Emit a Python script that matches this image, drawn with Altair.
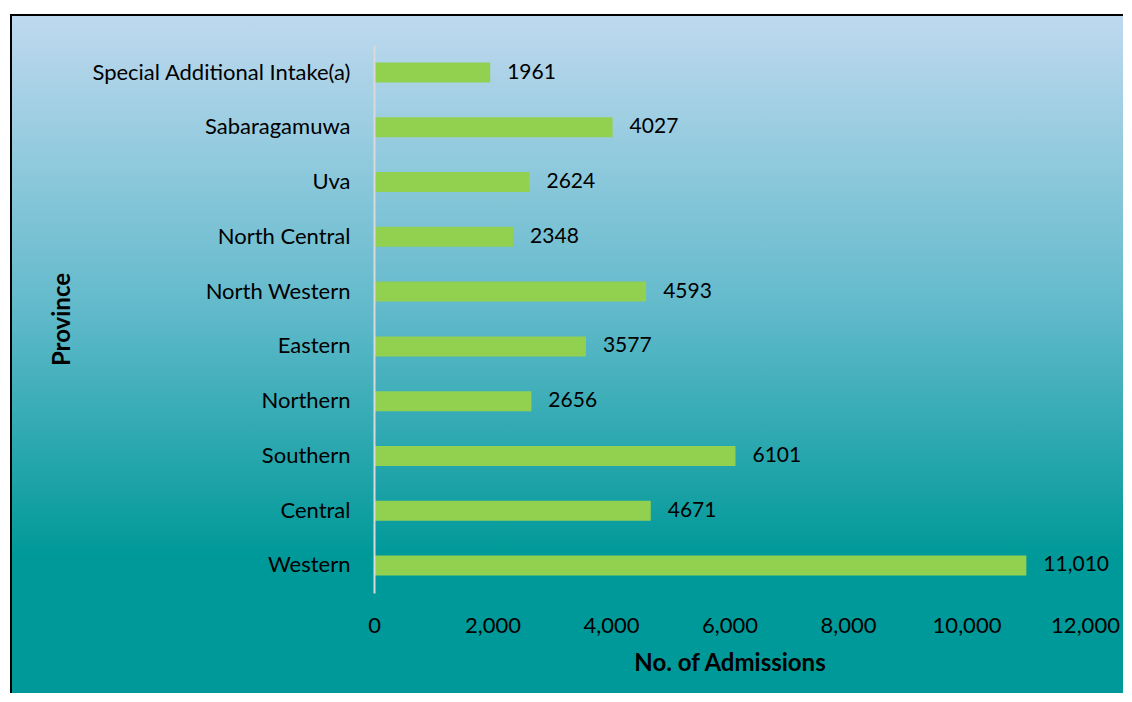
import altair as alt
import pandas as pd

provinces = ["Special Additional Intake(a)", "Sabaragamuwa", "Uva", "North Central",
             "North Western", "Eastern", "Northern", "Southern", "Central", "Western"]
admissions = [1961, 4027, 2624, 2348, 4593, 3577, 2656, 6101, 4671, 11010]
value_labels = ["1961", "4027", "2624", "2348", "4593", "3577", "2656", "6101", "4671", "11,010"]
x_ticks = [0, 2000, 4000, 6000, 8000, 10000, 12000]

df = pd.DataFrame({"Province": provinces, "Admissions": admissions, "Label": value_labels})

W, H = 711, 548
FONT = "Lato"

bg = alt.Chart(pd.DataFrame({"k": [0]})).mark_rect(
    color=alt.Gradient(
        gradient="linear",
        stops=[alt.GradientStop(color="#BFD9EF", offset=0),
               alt.GradientStop(color="#62BACB", offset=0.4),
               alt.GradientStop(color="#009999", offset=0.74),
               alt.GradientStop(color="#009999", offset=1)],
        x1=0, x2=0, y1=0, y2=1),
    stroke="black", strokeWidth=2,
).encode(x=alt.value(-363), x2=alt.value(800), y=alt.value(-30), y2=alt.value(700))

y_enc = alt.Y("Province:N", sort=provinces, title="Province",
              scale=alt.Scale(paddingInner=0.635, paddingOuter=0.32),
              axis=alt.Axis(domain=True, domainColor="#D9D9D9", domainWidth=2, ticks=False,
                            zindex=1, labelLimit=400,
                            labelPadding=24, labelFont=FONT, labelFontSize=22, labelColor="black",
                            titleFont=FONT, titleFontSize=24, titleFontWeight="bold", titleColor="black",
                            titleX=-312, titleY=H / 2, titleAngle=270, titleAlign="center",
                            titleBaseline="middle"))
x_enc = alt.X("Admissions:Q", title="No. of Admissions",
              scale=alt.Scale(domain=[0, 12000], nice=False),
              axis=alt.Axis(values=x_ticks, format=",.0f", labelFlush=False, labelOverlap=False,
                            domain=False, ticks=False, grid=False, labelPadding=22, zindex=1,
                            labelFont=FONT, labelFontSize=22, labelColor="black",
                            titleFont=FONT, titleFontSize=24, titleFontWeight="bold", titleColor="black",
                            titleY=70, titleBaseline="middle"))

bars = alt.Chart(df).mark_bar(color="#92D050").encode(x=x_enc, y=y_enc)
texts = alt.Chart(df).mark_text(align="left", baseline="middle", dx=17, font=FONT,
                                fontSize=21, color="black").encode(
    x="Admissions:Q", y=alt.Y("Province:N", sort=provinces), text="Label:N")

chart = alt.layer(bg, bars, texts).properties(
    width=W, height=H,
    autosize=alt.AutoSizeParams(type="none"),
    padding={"left": 366, "top": 37, "right": 38, "bottom": 100},
).configure_view(stroke=None).configure(background="white")

chart.save("out.html", embed_options={"renderer": "svg", "actions": False})
